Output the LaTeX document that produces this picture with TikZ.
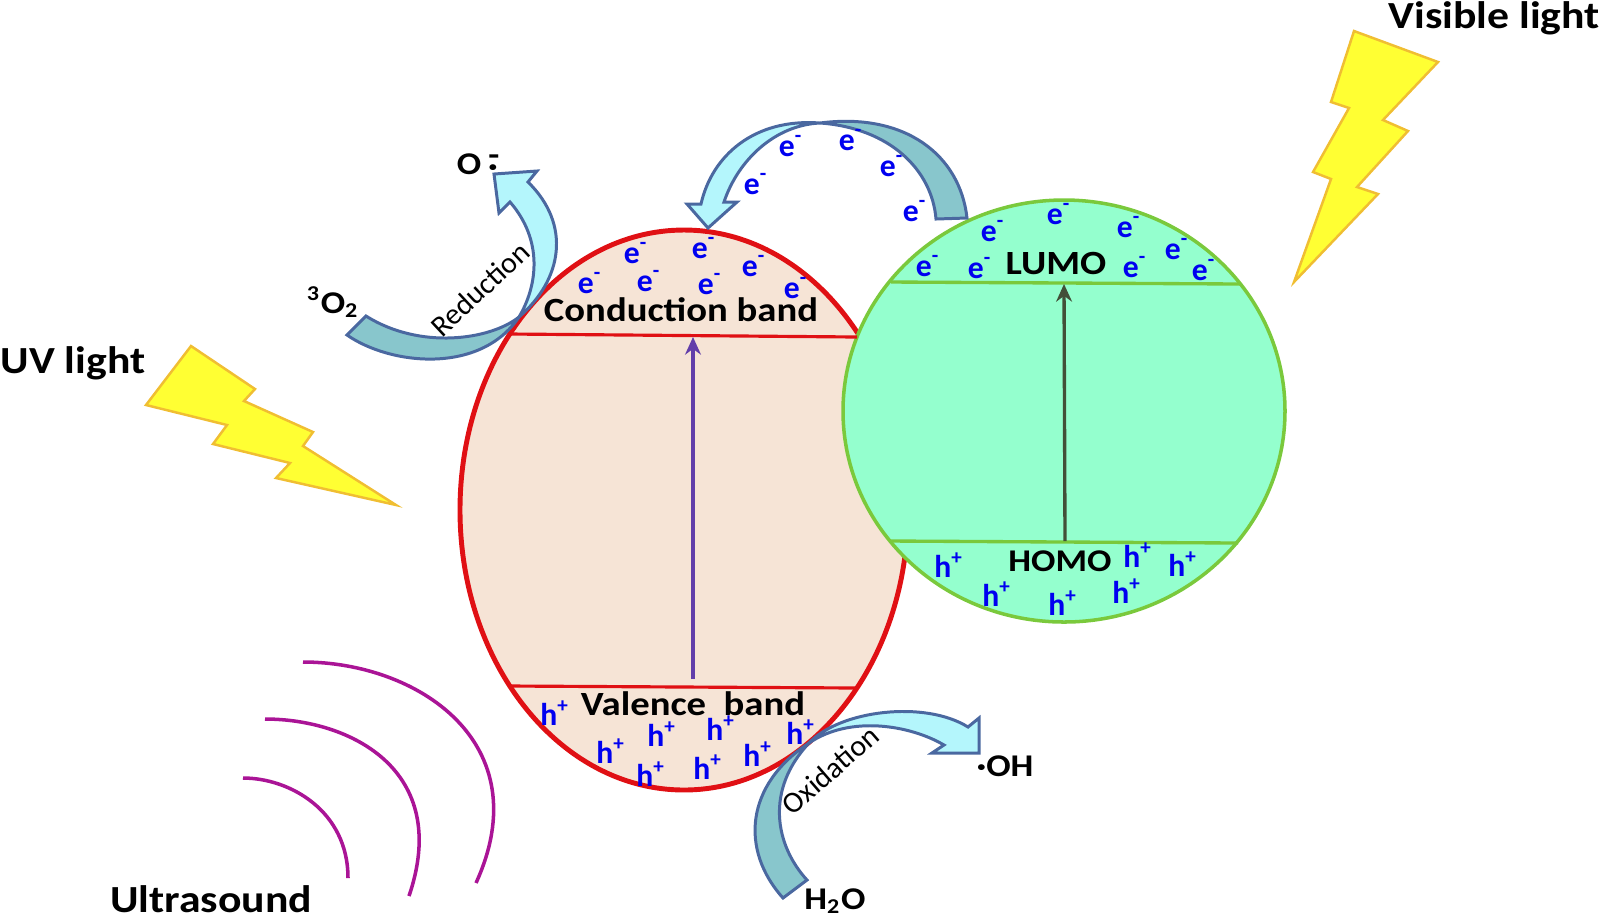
\documentclass[tikz,border=0pt]{standalone}
\usepackage{fontspec}
\setmainfont{Carlito}
\newfontfamily\bandfont[FakeStretch=1.14]{Carlito}
\usetikzlibrary{arrows.meta,positioning}
\definecolor{bandRed}{RGB}{224,16,20}
\definecolor{bandFill}{RGB}{246,228,214}
\definecolor{dyeGreen}{RGB}{122,201,60}
\definecolor{dyeFill}{RGB}{148,255,206}
\definecolor{boltFill}{RGB}{255,255,51}
\definecolor{boltEdge}{RGB}{240,190,50}
\definecolor{sonoPurple}{RGB}{170,20,150}
\definecolor{ribbonEdge}{RGB}{74,104,160}
\definecolor{ribbonLight}{RGB}{180,246,252}
\definecolor{ribbonDark}{RGB}{136,198,204}
\definecolor{carrierBlue}{RGB}{0,0,240}
\definecolor{gapPurple}{RGB}{98,62,170}
\definecolor{gapDark}{RGB}{66,80,56}
\tikzset{
  bolt/.style={draw=boltEdge,fill=boltFill,line width=0.7pt,line join=miter},
  ribbonL/.style={draw=ribbonEdge,fill=ribbonLight,line width=0.85pt,line join=miter},
  ribbonD/.style={draw=ribbonEdge,fill=ribbonDark,line width=0.85pt,line join=miter},
  sono/.style={sonoPurple,line width=1pt},
  bandline/.style={bandRed,line width=0.9pt},
  dyeline/.style={dyeGreen,line width=0.95pt},
  elec/.style={text=carrierBlue,font=\bfseries\fontsize{9}{10}\selectfont,inner sep=0pt},
  bigLabel/.style={font=\bandfont\bfseries\fontsize{10.9}{12}\selectfont,inner sep=0pt},
  bandLabel/.style={font=\bandfont\bfseries\fontsize{9.65}{11}\selectfont,inner sep=0pt},
  smallLabel/.style={font=\bandfont\bfseries\fontsize{9}{10}\selectfont,inner sep=0pt},
  sideLabel/.style={font=\fontsize{8.5}{10}\selectfont,inner sep=0pt}
}
\begin{document}
\begin{tikzpicture}[x=0.01cm,y=-0.01cm]
  \useasboundingbox (0,0) rectangle (1600,917);
  % semiconductor and dye bodies
  \draw[bandRed,fill=bandFill,line width=1.4pt] (684,510) ellipse [x radius=224,y radius=280];
  \draw[dyeGreen,fill=dyeFill,line width=1pt] (1064,411) ellipse [x radius=221,y radius=211];
  % band edges
  \coordinate (cbL) at (510,334);
  \coordinate (cbR) at (857,337);
  \coordinate (vbL) at (510,686);
  \coordinate (vbR) at (857,688);
  \coordinate (cbMid) at (693,337);
  \coordinate (vbMid) at (693,679);
  \draw[bandline] (cbL) -- (cbR);
  \draw[bandline] (vbL) -- (vbR);
  \draw[-{Stealth[length=5pt,width=4.5pt]},draw=gapPurple,fill=gapPurple,line width=0.95pt] (vbMid) -- (cbMid);
  \coordinate (lumoL) at (891,282);
  \coordinate (lumoR) at (1240,284);
  \coordinate (homoL) at (890,541);
  \coordinate (homoR) at (1238,543);
  \coordinate (lumoMid) at (1064,284);
  \coordinate (homoMid) at (1065,541);
  \draw[dyeline] (lumoL) -- (lumoR);
  \draw[dyeline] (homoL) -- (homoR);
  \draw[-{Stealth[length=5pt,width=4.5pt]},draw=gapDark,fill=gapDark,line width=0.95pt] (homoMid) -- (lumoMid);
  % light bolts
  \draw[bolt] (191,346) -- (255,389) -- (244,401) -- (313,432) -- (303,446) -- (396,505) -- (276,478)
     -- (290,463) -- (213,444) -- (227,425) -- (146,405) -- cycle;
  \draw[bolt] (1354,31) -- (1438,62) -- (1383,120) -- (1408,131) -- (1357,187) -- (1378,194) -- (1294,282)
     -- (1331,179) -- (1313,172) -- (1349,108) -- (1331,102) -- cycle;
  % ultrasound waves
  \draw[sono] (303,662) .. controls (418,662) and (540,743) .. (476,883);
  \draw[sono] (265,719) .. controls (350,719) and (452,770) .. (409,896);
  \draw[sono] (243,778) .. controls (290,778) and (348,811) .. (348,878);
  % electron transfer ribbon
  \draw[ribbonD] (820,123) .. controls (905,112) and (960,155) .. (967,218) -- (936,219)
     .. controls (932,170) and (890,128) .. (820,123) -- cycle;
  \draw[ribbonL] (820,123) .. controls (755,118) and (712,155) .. (701,204) -- (687,204) -- (708,228)
     -- (737,202) -- (724,202) .. controls (738,160) and (775,125) .. (820,123) -- cycle;
  % reduction ribbon
  \draw[ribbonD] (519,317) .. controls (490,340) and (420,350) .. (366,316) -- (347,335)
     .. controls (390,365) and (480,375) .. (519,317) -- cycle;
  \draw[ribbonL] (519,317) .. controls (562,280) and (572,225) .. (528,182) -- (537,171) -- (494,174)
     -- (499,213) -- (510,202) .. controls (543,240) and (538,285) .. (519,317) -- cycle;
  % oxidation ribbon
  \draw[ribbonD] (809,743) .. controls (745,785) and (740,850) .. (783,898) -- (807,880)
     .. controls (775,845) and (765,790) .. (809,743) -- cycle;
  \draw[ribbonL] (809,743) .. controls (840,710) and (925,700) .. (968,727) -- (979,718) -- (979,753)
     -- (932,753) -- (944,745) .. controls (910,725) and (850,715) .. (809,743) -- cycle;
  % carriers
  \foreach \x/\y [count=\i] in {791/146,851/140,892/166,756/184,915/211,
      636/253,704/248,754/266,590/283,649/281,710/284,796/288,
      993/231,1059/214,1129/227,1177/249,928/266,980/268,1135/267,1204/270}
    \node[elec] (elec\i) at (\x,\y) {e\textsuperscript{-}};
  \foreach \x/\y [count=\i] in {555/713,662/734,721/728,801/732,611/751,651/774,708/767,758/754,
      949/565,1138/555,1183/564,997/594,1063/603,1127/591}
    \node[elec] (hole\i) at (\x,\y) {h\textsuperscript{+}};
  % labels
  \node[bigLabel] (visLabel) at (1494,18) {Visible light};
  \node[bigLabel] (uvLabel) at (73,363) {UV light};
  \node[bigLabel] (usLabel) at (211,899) {Ultrasound};
  \node[bandLabel] (cbLabel) at (681,310) {Conduction band};
  \node[bandLabel] (vbLabel) at (693,704) {Valence\ \ band};
  \node[bandLabel] (lumoLabel) at (1056,263) {LUMO};
  \node[smallLabel] (homoLabel) at (1060,561) {HOMO};
  \node[smallLabel] (oLabel) at (469,164) {O};
  \node[smallLabel] (oMinus) at (494,160) {-};
  \node[smallLabel] (oDot) at (493,171) {\textperiodcentered};
  \node[smallLabel] (oxyLabel) at (333,302) {\textsuperscript{3}O\textsubscript{2}};
  \node[smallLabel] (waterLabel) at (835,901) {H\textsubscript{2}O};
  \node[smallLabel] (ohLabel) at (1005,766) {\textperiodcentered OH};
  \node[sideLabel,rotate=43] (redLabel) at (480,289) {Reduction};
  \node[sideLabel,rotate=41] (oxLabel) at (830,770) {Oxidation};
\end{tikzpicture}
\end{document}
